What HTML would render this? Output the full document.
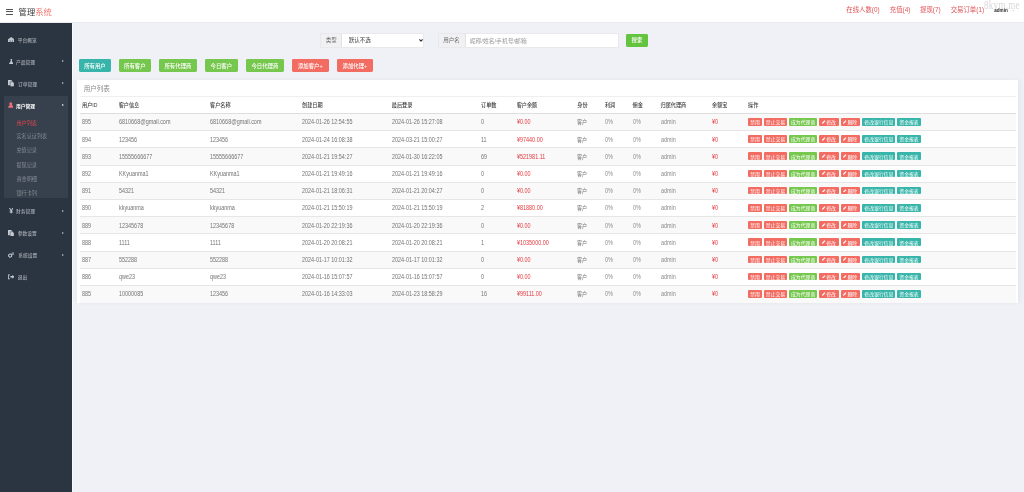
<!DOCTYPE html>
<html><head><meta charset="utf-8"><style>
*{margin:0;padding:0;box-sizing:border-box}
body{filter:blur(0.3px)}
html,body{width:1024px;height:492px;overflow:hidden;background:#f0f1f6;font-family:"Liberation Sans","Noto Sans CJK SC",sans-serif;color:#666}
div,span{white-space:nowrap}
.a{position:absolute}
#hdr{position:absolute;z-index:5;left:0;top:0;width:1024px;height:23px;background:#fff;border-bottom:1px solid #e9e9ee}
#burger{position:absolute;left:6.2px;top:8.8px;width:6.8px;height:6px}
#burger i{position:absolute;left:0;width:6.8px;height:1.1px;background:#555}
#title{position:absolute;left:18.6px;top:7px;font-size:8.3px;line-height:11px;color:#3a3a3a}
#title span{color:#f07a72}
.hl{position:absolute;top:6px;font-size:6.4px;line-height:8px;color:#e05356}
#wm{position:absolute;left:983.8px;top:-2.2px;font-family:"Liberation Serif",serif;font-size:12.2px;color:#d8d8da;transform:scaleX(0.74);transform-origin:0 0;letter-spacing:0.4px}
#admin{position:absolute;left:994.2px;top:8px;font-size:4.6px;line-height:6px;color:#2a2a2a;font-weight:bold}
#side{position:absolute;left:0;top:0;width:72px;height:492px;background:#2b3541}
.mi{position:absolute;font-size:4.75px;line-height:6px;color:#a2a8b0;font-weight:500}
.ic{position:absolute;left:8px;display:flex;align-items:center;justify-content:center;width:6.4px;height:6px}
.ic svg{display:block}
.arr{position:absolute;left:61.9px;width:0;height:0;border-left:2.4px solid #b4b9c0;border-top:1.7px solid transparent;border-bottom:1.7px solid transparent}
#act{position:absolute;left:4px;top:96px;width:64px;height:101.5px;background:#37414d}
.mi.on{color:#fff;font-weight:bold}
.si{position:absolute;left:16.4px;font-size:5.15px;line-height:6px;color:#858c95}
.si.on{color:#e4464e}
.ig{position:absolute;top:32.9px;height:14.7px;background:#fff;border:0.5px solid #e9e9ed}
.ig .ad{position:absolute;left:0;top:0;bottom:0;background:#f1f1f3;border-right:0.5px solid #e2e2e6;font-size:5.5px;color:#666;display:flex;align-items:center;justify-content:center}
.ig .tx{position:absolute;top:0;bottom:0;font-size:5.5px;display:flex;align-items:center}
#sbtn{position:absolute;left:626.2px;top:34px;width:21.4px;height:12.6px;background:#64c43f;border-radius:1.4px;color:#fff;font-size:5.4px;font-weight:500;display:flex;align-items:center;justify-content:center}
.tb{position:absolute;top:59.1px;height:12.7px;border-radius:1.4px;color:#fff;font-size:5.4px;font-weight:500;display:flex;align-items:center;justify-content:center;padding-top:1.3px}
.teal{background:#37b5aa}.grn{background:#76c74d}.red{background:#f36c62}
#panel{position:absolute;left:77px;top:80px;width:940.5px;height:223px;background:#fff;box-shadow:3px 0 4px rgba(40,40,90,0.035),-3px 0 4px rgba(40,40,90,0.02)}
#edge{position:absolute;left:72px;top:23px;width:1px;height:469px;background:#f9fafd}
#ptitle{position:absolute;left:83.8px;top:85.3px;font-size:6.5px;line-height:8px;color:#8a8a8a}
.hr{position:absolute;left:79.5px;width:936.5px}
.th{position:absolute;top:102.4px;font-size:5.15px;line-height:6px;color:#3c3c3c;font-weight:500}
.row{position:absolute;left:79.5px;width:936.5px;height:17.2px}
.row.s{background:#f9f9f9}
.c{position:absolute;font-size:6.4px;line-height:6px;color:#737373;transform:translateY(0.45px) scaleX(0.85);transform-origin:0 50%}
.c.r{color:#e5393e}
.c.l{color:#8a8a8a}
.ab{position:absolute;height:7.8px;border-radius:1px;color:#fff;font-size:4.85px;display:flex;align-items:center;justify-content:center}
.pen{display:block;margin-right:0.6px;margin-top:-0.3px}
</style></head><body>
<div id="hdr">
<div id="burger"><i style="top:0"></i><i style="top:2.4px"></i><i style="top:4.8px"></i></div>
<div id="title">管理<span>系统</span></div>
<div class="hl" style="left:846.3px">在线人数(0)</div>
<div class="hl" style="left:889.8px">充值(4)</div>
<div class="hl" style="left:920.1px">提现(7)</div>
<div class="hl" style="left:950.7px">交易订单(1)</div>
<div id="wm">8kym.me</div>
<div id="admin">admin</div><div class="a" style="left:1012.4px;top:10px;width:0;height:0;border-top:1.4px solid #bbb;border-left:1px solid transparent;border-right:1px solid transparent"></div>
</div>
<div id="edge"></div><div id="side"><div id="act"></div>
<div class="ic" style="top:36.50px"><svg width="6.4" height="5.8" viewBox="0 0 12 11"><path d="M6 0L12 4.5V11H0V4.5z" fill="#bfc4cb"/><path d="M3.3 6h1.4v3.5H3.3z M7.3 6h1.4v3.5H7.3z" fill="#5a636e"/></svg></div><div class="mi" style="left:17.7px;top:37.50px">平台概览</div>
<div class="ic" style="top:58.60px"><svg width="4.6" height="5.6" viewBox="0 0 10 12"><path d="M3 0h4v1H6.2v3.2L10 10.5V12H0v-1.5L3.8 4.2V1H3z" fill="#c3c8ce"/></svg></div><div class="mi" style="left:16.0px;top:59.60px">产品管理</div>
<div class="arr" style="top:60.30px"></div>
<div class="ic" style="top:80.50px"><svg width="6.2" height="6.6" viewBox="0 0 14 15"><path d="M0 0h7l3 3v9H0z" fill="#c8ccd2"/><path d="M5 4h6l3 3v8H5z" fill="#c8ccd2" stroke="#2b3541" stroke-width="1"/></svg></div><div class="mi" style="left:17.9px;top:81.50px">订单管理</div>
<div class="arr" style="top:82.20px"></div>
<div class="ic" style="top:208.00px"><svg width="4.4" height="5.4" viewBox="0 0 10 12"><path d="M0 0h2.6L5 4.6 7.4 0H10L6.4 6H8.6v1.4H6.3V8.6H8.6V10H6.3v2H3.7v-2H1.4V8.6h2.3V7.4H1.4V6h2.2z" fill="#c8ccd2"/></svg></div><div class="mi" style="left:15.9px;top:209.00px">财务管理</div>
<div class="arr" style="top:209.70px"></div>
<div class="ic" style="top:230.00px"><svg width="6.2" height="6.6" viewBox="0 0 14 15"><path d="M0 0h7l3 3v9H0z" fill="#c8ccd2"/><path d="M5 4h6l3 3v8H5z" fill="#c8ccd2" stroke="#2b3541" stroke-width="1"/></svg></div><div class="mi" style="left:17.8px;top:231.00px">参数设置</div>
<div class="arr" style="top:231.70px"></div>
<div class="ic" style="top:252.00px"><svg width="6.6" height="6" viewBox="0 0 16 14"><circle cx="5.5" cy="8.5" r="4" fill="none" stroke="#c8ccd2" stroke-width="2.6"/><circle cx="12.5" cy="3.5" r="2.4" fill="none" stroke="#c8ccd2" stroke-width="1.8"/></svg></div><div class="mi" style="left:18.3px;top:253.00px">系统设置</div>
<div class="arr" style="top:253.70px"></div>
<div class="ic" style="top:274.20px"><svg width="6.4" height="5.6" viewBox="0 0 16 14"><path d="M0 1h5v2H2v8h3v2H0z" fill="#c8ccd2"/><path d="M6 5h5V2l5 5-5 5V9H6z" fill="#c8ccd2"/></svg></div><div class="mi" style="left:17.8px;top:275.20px">退出</div>
<div class="ic" style="top:102.30px;left:7.4px"><svg width="5.6" height="6" viewBox="0 0 14 14"><circle cx="7" cy="4" r="3.8" fill="#ef6e7a"/><path d="M0.5 14c0-5 2.8-7.2 6.5-7.2s6.5 2.2 6.5 7.2z" fill="#ef6e7a"/></svg></div><div class="mi on" style="left:16px;top:103.60px">用户管理</div><div class="arr" style="top:104.30px;border-left-color:#e6e8ea"></div>
<div class="si on" style="top:120.00px">用户列表</div>
<div class="si" style="top:132.70px">实名认证列表</div>
<div class="si" style="top:147.00px">充值记录</div>
<div class="si" style="top:161.80px">提现记录</div>
<div class="si" style="top:175.90px">资金明细</div>
<div class="si" style="top:189.90px">银行卡列</div>
</div>
<div class="ig" style="left:320.2px;width:104px"><div class="ad" style="width:21px">类型</div><div class="tx" style="left:27.5px;color:#333">默认不选</div>
<svg class="a" style="left:98.3px;top:5.1px" width="4" height="3" viewBox="0 0 8 6"><path d="M0.8 0.8L4 4.4 7.2 0.8" fill="none" stroke="#333" stroke-width="2.2" stroke-linejoin="round"/></svg></div>
<div class="ig" style="left:437.5px;width:181.3px"><div class="ad" style="width:27px">用户名</div><div class="tx" style="left:31.2px;color:#999;font-size:5.8px">昵称/姓名/手机号/邮箱</div></div>
<div id="sbtn">搜索</div>
<div class="tb teal" style="left:78.8px;width:32.3px">所有用户</div>
<div class="tb grn" style="left:118.7px;width:32.3px">所有客户</div>
<div class="tb grn" style="left:159px;width:37.9px">所有代理商</div>
<div class="tb grn" style="left:204.9px;width:32.9px">今日客户</div>
<div class="tb grn" style="left:246px;width:37.8px">今日代理商</div>
<div class="tb red" style="left:291.8px;width:36.9px">添加客户+</div>
<div class="tb red" style="left:336.6px;width:36.5px">添加代理+</div>
<div id="panel"></div><div id="ptitle">用户列表</div>
<div class="hr" style="top:96.3px;height:0.6px;background:#efefef"></div>
<div class="th" style="left:82px">用户ID</div>
<div class="th" style="left:118.7px">客户信息</div>
<div class="th" style="left:210px">客户名称</div>
<div class="th" style="left:302px">创建日期</div>
<div class="th" style="left:391.8px">最后登录</div>
<div class="th" style="left:481px">订单数</div>
<div class="th" style="left:516.7px">客户余额</div>
<div class="th" style="left:577.3px">身份</div>
<div class="th" style="left:604.9px">利润</div>
<div class="th" style="left:632.6px">佣金</div>
<div class="th" style="left:660.5px">归属代理商</div>
<div class="th" style="left:712px">余额宝</div>
<div class="th" style="left:748px">操作</div>
<div class="row s" style="top:113.40px"></div>
<div class="c" style="left:82px;top:119.34px">895</div>
<div class="c" style="left:118.7px;top:119.34px">6810668@gmail.com</div>
<div class="c" style="left:210px;top:119.34px">6810668@gmail.com</div>
<div class="c" style="left:302px;top:119.34px">2024-01-26 12:54:55</div>
<div class="c" style="left:391.8px;top:119.34px">2024-01-26 15:27:08</div>
<div class="c" style="left:481px;top:119.34px">0</div>
<div class="c r" style="left:516.7px;top:119.34px">¥0.00</div>
<div class="c" style="left:577.3px;top:119.34px"><span style="font-size:6px">客户</span></div>
<div class="c l" style="left:604.9px;top:119.34px">0%</div>
<div class="c l" style="left:632.6px;top:119.34px">0%</div>
<div class="c l" style="left:660.5px;top:119.34px">admin</div>
<div class="c r" style="left:712px;top:119.34px">¥0</div>
<div class="ab red" style="left:747.9px;top:117.90px;width:14.2px">禁用</div>
<div class="ab red" style="left:764px;top:117.90px;width:23.0px">禁止交易</div>
<div class="ab grn" style="left:789.1px;top:117.90px;width:28.1px">成为代理商</div>
<div class="ab red" style="left:819.4px;top:117.90px;width:19.3px"><svg class="pen" width="3.6" height="3.8" viewBox="0 0 10 10"><path d="M0 10l0.8-3.2L7.2 0.4 9.6 2.8 3.2 9.2z" fill="#fff"/></svg>修改</div>
<div class="ab red" style="left:840.6px;top:117.90px;width:19.3px"><svg class="pen" width="3.6" height="3.8" viewBox="0 0 10 10"><path d="M0 10l0.8-3.2L7.2 0.4 9.6 2.8 3.2 9.2z" fill="#fff"/></svg>删除</div>
<div class="ab teal" style="left:862.3px;top:117.90px;width:33.2px">修改银行信息</div>
<div class="ab teal" style="left:897.3px;top:117.90px;width:23.4px">资金报表</div>
<div class="row" style="top:130.60px"></div>
<div class="hr" style="top:130.25px;height:0.7px;background:#e6e6e6"></div>
<div class="c" style="left:82px;top:136.54px">894</div>
<div class="c" style="left:118.7px;top:136.54px">123456</div>
<div class="c" style="left:210px;top:136.54px">123456</div>
<div class="c" style="left:302px;top:136.54px">2024-01-24 16:08:38</div>
<div class="c" style="left:391.8px;top:136.54px">2024-03-21 15:00:27</div>
<div class="c" style="left:481px;top:136.54px">11</div>
<div class="c r" style="left:516.7px;top:136.54px">¥97440.00</div>
<div class="c" style="left:577.3px;top:136.54px"><span style="font-size:6px">客户</span></div>
<div class="c l" style="left:604.9px;top:136.54px">0%</div>
<div class="c l" style="left:632.6px;top:136.54px">0%</div>
<div class="c l" style="left:660.5px;top:136.54px">admin</div>
<div class="c r" style="left:712px;top:136.54px">¥0</div>
<div class="ab red" style="left:747.9px;top:135.10px;width:14.2px">禁用</div>
<div class="ab red" style="left:764px;top:135.10px;width:23.0px">禁止交易</div>
<div class="ab grn" style="left:789.1px;top:135.10px;width:28.1px">成为代理商</div>
<div class="ab red" style="left:819.4px;top:135.10px;width:19.3px"><svg class="pen" width="3.6" height="3.8" viewBox="0 0 10 10"><path d="M0 10l0.8-3.2L7.2 0.4 9.6 2.8 3.2 9.2z" fill="#fff"/></svg>修改</div>
<div class="ab red" style="left:840.6px;top:135.10px;width:19.3px"><svg class="pen" width="3.6" height="3.8" viewBox="0 0 10 10"><path d="M0 10l0.8-3.2L7.2 0.4 9.6 2.8 3.2 9.2z" fill="#fff"/></svg>删除</div>
<div class="ab teal" style="left:862.3px;top:135.10px;width:33.2px">修改银行信息</div>
<div class="ab teal" style="left:897.3px;top:135.10px;width:23.4px">资金报表</div>
<div class="row s" style="top:147.80px"></div>
<div class="hr" style="top:147.45px;height:0.7px;background:#e6e6e6"></div>
<div class="c" style="left:82px;top:153.74px">893</div>
<div class="c" style="left:118.7px;top:153.74px">15555666677</div>
<div class="c" style="left:210px;top:153.74px">15555666677</div>
<div class="c" style="left:302px;top:153.74px">2024-01-21 19:54:27</div>
<div class="c" style="left:391.8px;top:153.74px">2024-01-30 16:22:05</div>
<div class="c" style="left:481px;top:153.74px">69</div>
<div class="c r" style="left:516.7px;top:153.74px">¥521981.11</div>
<div class="c" style="left:577.3px;top:153.74px"><span style="font-size:6px">客户</span></div>
<div class="c l" style="left:604.9px;top:153.74px">0%</div>
<div class="c l" style="left:632.6px;top:153.74px">0%</div>
<div class="c l" style="left:660.5px;top:153.74px">admin</div>
<div class="c r" style="left:712px;top:153.74px">¥0</div>
<div class="ab red" style="left:747.9px;top:152.30px;width:14.2px">禁用</div>
<div class="ab red" style="left:764px;top:152.30px;width:23.0px">禁止交易</div>
<div class="ab grn" style="left:789.1px;top:152.30px;width:28.1px">成为代理商</div>
<div class="ab red" style="left:819.4px;top:152.30px;width:19.3px"><svg class="pen" width="3.6" height="3.8" viewBox="0 0 10 10"><path d="M0 10l0.8-3.2L7.2 0.4 9.6 2.8 3.2 9.2z" fill="#fff"/></svg>修改</div>
<div class="ab red" style="left:840.6px;top:152.30px;width:19.3px"><svg class="pen" width="3.6" height="3.8" viewBox="0 0 10 10"><path d="M0 10l0.8-3.2L7.2 0.4 9.6 2.8 3.2 9.2z" fill="#fff"/></svg>删除</div>
<div class="ab teal" style="left:862.3px;top:152.30px;width:33.2px">修改银行信息</div>
<div class="ab teal" style="left:897.3px;top:152.30px;width:23.4px">资金报表</div>
<div class="row" style="top:165.00px"></div>
<div class="hr" style="top:164.65px;height:0.7px;background:#e6e6e6"></div>
<div class="c" style="left:82px;top:170.94px">892</div>
<div class="c" style="left:118.7px;top:170.94px">KKyuanma1</div>
<div class="c" style="left:210px;top:170.94px">KKyuanma1</div>
<div class="c" style="left:302px;top:170.94px">2024-01-21 19:49:16</div>
<div class="c" style="left:391.8px;top:170.94px">2024-01-21 19:49:16</div>
<div class="c" style="left:481px;top:170.94px">0</div>
<div class="c r" style="left:516.7px;top:170.94px">¥0.00</div>
<div class="c" style="left:577.3px;top:170.94px"><span style="font-size:6px">客户</span></div>
<div class="c l" style="left:604.9px;top:170.94px">0%</div>
<div class="c l" style="left:632.6px;top:170.94px">0%</div>
<div class="c l" style="left:660.5px;top:170.94px">admin</div>
<div class="c r" style="left:712px;top:170.94px">¥0</div>
<div class="ab red" style="left:747.9px;top:169.50px;width:14.2px">禁用</div>
<div class="ab red" style="left:764px;top:169.50px;width:23.0px">禁止交易</div>
<div class="ab grn" style="left:789.1px;top:169.50px;width:28.1px">成为代理商</div>
<div class="ab red" style="left:819.4px;top:169.50px;width:19.3px"><svg class="pen" width="3.6" height="3.8" viewBox="0 0 10 10"><path d="M0 10l0.8-3.2L7.2 0.4 9.6 2.8 3.2 9.2z" fill="#fff"/></svg>修改</div>
<div class="ab red" style="left:840.6px;top:169.50px;width:19.3px"><svg class="pen" width="3.6" height="3.8" viewBox="0 0 10 10"><path d="M0 10l0.8-3.2L7.2 0.4 9.6 2.8 3.2 9.2z" fill="#fff"/></svg>删除</div>
<div class="ab teal" style="left:862.3px;top:169.50px;width:33.2px">修改银行信息</div>
<div class="ab teal" style="left:897.3px;top:169.50px;width:23.4px">资金报表</div>
<div class="row s" style="top:182.20px"></div>
<div class="hr" style="top:181.85px;height:0.7px;background:#e6e6e6"></div>
<div class="c" style="left:82px;top:188.14px">891</div>
<div class="c" style="left:118.7px;top:188.14px">54321</div>
<div class="c" style="left:210px;top:188.14px">54321</div>
<div class="c" style="left:302px;top:188.14px">2024-01-21 18:06:31</div>
<div class="c" style="left:391.8px;top:188.14px">2024-01-21 20:04:27</div>
<div class="c" style="left:481px;top:188.14px">0</div>
<div class="c r" style="left:516.7px;top:188.14px">¥0.00</div>
<div class="c" style="left:577.3px;top:188.14px"><span style="font-size:6px">客户</span></div>
<div class="c l" style="left:604.9px;top:188.14px">0%</div>
<div class="c l" style="left:632.6px;top:188.14px">0%</div>
<div class="c l" style="left:660.5px;top:188.14px">admin</div>
<div class="c r" style="left:712px;top:188.14px">¥0</div>
<div class="ab red" style="left:747.9px;top:186.70px;width:14.2px">禁用</div>
<div class="ab red" style="left:764px;top:186.70px;width:23.0px">禁止交易</div>
<div class="ab grn" style="left:789.1px;top:186.70px;width:28.1px">成为代理商</div>
<div class="ab red" style="left:819.4px;top:186.70px;width:19.3px"><svg class="pen" width="3.6" height="3.8" viewBox="0 0 10 10"><path d="M0 10l0.8-3.2L7.2 0.4 9.6 2.8 3.2 9.2z" fill="#fff"/></svg>修改</div>
<div class="ab red" style="left:840.6px;top:186.70px;width:19.3px"><svg class="pen" width="3.6" height="3.8" viewBox="0 0 10 10"><path d="M0 10l0.8-3.2L7.2 0.4 9.6 2.8 3.2 9.2z" fill="#fff"/></svg>删除</div>
<div class="ab teal" style="left:862.3px;top:186.70px;width:33.2px">修改银行信息</div>
<div class="ab teal" style="left:897.3px;top:186.70px;width:23.4px">资金报表</div>
<div class="row" style="top:199.40px"></div>
<div class="hr" style="top:199.05px;height:0.7px;background:#e6e6e6"></div>
<div class="c" style="left:82px;top:205.34px">890</div>
<div class="c" style="left:118.7px;top:205.34px">kkyuanma</div>
<div class="c" style="left:210px;top:205.34px">kkyuanma</div>
<div class="c" style="left:302px;top:205.34px">2024-01-21 15:50:19</div>
<div class="c" style="left:391.8px;top:205.34px">2024-01-21 15:50:19</div>
<div class="c" style="left:481px;top:205.34px">2</div>
<div class="c r" style="left:516.7px;top:205.34px">¥81880.00</div>
<div class="c" style="left:577.3px;top:205.34px"><span style="font-size:6px">客户</span></div>
<div class="c l" style="left:604.9px;top:205.34px">0%</div>
<div class="c l" style="left:632.6px;top:205.34px">0%</div>
<div class="c l" style="left:660.5px;top:205.34px">admin</div>
<div class="c r" style="left:712px;top:205.34px">¥0</div>
<div class="ab red" style="left:747.9px;top:203.90px;width:14.2px">禁用</div>
<div class="ab red" style="left:764px;top:203.90px;width:23.0px">禁止交易</div>
<div class="ab grn" style="left:789.1px;top:203.90px;width:28.1px">成为代理商</div>
<div class="ab red" style="left:819.4px;top:203.90px;width:19.3px"><svg class="pen" width="3.6" height="3.8" viewBox="0 0 10 10"><path d="M0 10l0.8-3.2L7.2 0.4 9.6 2.8 3.2 9.2z" fill="#fff"/></svg>修改</div>
<div class="ab red" style="left:840.6px;top:203.90px;width:19.3px"><svg class="pen" width="3.6" height="3.8" viewBox="0 0 10 10"><path d="M0 10l0.8-3.2L7.2 0.4 9.6 2.8 3.2 9.2z" fill="#fff"/></svg>删除</div>
<div class="ab teal" style="left:862.3px;top:203.90px;width:33.2px">修改银行信息</div>
<div class="ab teal" style="left:897.3px;top:203.90px;width:23.4px">资金报表</div>
<div class="row s" style="top:216.60px"></div>
<div class="hr" style="top:216.25px;height:0.7px;background:#e6e6e6"></div>
<div class="c" style="left:82px;top:222.54px">889</div>
<div class="c" style="left:118.7px;top:222.54px">12345678</div>
<div class="c" style="left:210px;top:222.54px">12345678</div>
<div class="c" style="left:302px;top:222.54px">2024-01-20 22:19:36</div>
<div class="c" style="left:391.8px;top:222.54px">2024-01-20 22:19:36</div>
<div class="c" style="left:481px;top:222.54px">0</div>
<div class="c r" style="left:516.7px;top:222.54px">¥0.00</div>
<div class="c" style="left:577.3px;top:222.54px"><span style="font-size:6px">客户</span></div>
<div class="c l" style="left:604.9px;top:222.54px">0%</div>
<div class="c l" style="left:632.6px;top:222.54px">0%</div>
<div class="c l" style="left:660.5px;top:222.54px">admin</div>
<div class="c r" style="left:712px;top:222.54px">¥0</div>
<div class="ab red" style="left:747.9px;top:221.10px;width:14.2px">禁用</div>
<div class="ab red" style="left:764px;top:221.10px;width:23.0px">禁止交易</div>
<div class="ab grn" style="left:789.1px;top:221.10px;width:28.1px">成为代理商</div>
<div class="ab red" style="left:819.4px;top:221.10px;width:19.3px"><svg class="pen" width="3.6" height="3.8" viewBox="0 0 10 10"><path d="M0 10l0.8-3.2L7.2 0.4 9.6 2.8 3.2 9.2z" fill="#fff"/></svg>修改</div>
<div class="ab red" style="left:840.6px;top:221.10px;width:19.3px"><svg class="pen" width="3.6" height="3.8" viewBox="0 0 10 10"><path d="M0 10l0.8-3.2L7.2 0.4 9.6 2.8 3.2 9.2z" fill="#fff"/></svg>删除</div>
<div class="ab teal" style="left:862.3px;top:221.10px;width:33.2px">修改银行信息</div>
<div class="ab teal" style="left:897.3px;top:221.10px;width:23.4px">资金报表</div>
<div class="row" style="top:233.80px"></div>
<div class="hr" style="top:233.45px;height:0.7px;background:#e6e6e6"></div>
<div class="c" style="left:82px;top:239.74px">888</div>
<div class="c" style="left:118.7px;top:239.74px">1111</div>
<div class="c" style="left:210px;top:239.74px">1111</div>
<div class="c" style="left:302px;top:239.74px">2024-01-20 20:08:21</div>
<div class="c" style="left:391.8px;top:239.74px">2024-01-20 20:08:21</div>
<div class="c" style="left:481px;top:239.74px">1</div>
<div class="c r" style="left:516.7px;top:239.74px">¥1035000.00</div>
<div class="c" style="left:577.3px;top:239.74px"><span style="font-size:6px">客户</span></div>
<div class="c l" style="left:604.9px;top:239.74px">0%</div>
<div class="c l" style="left:632.6px;top:239.74px">0%</div>
<div class="c l" style="left:660.5px;top:239.74px">admin</div>
<div class="c r" style="left:712px;top:239.74px">¥0</div>
<div class="ab red" style="left:747.9px;top:238.30px;width:14.2px">禁用</div>
<div class="ab red" style="left:764px;top:238.30px;width:23.0px">禁止交易</div>
<div class="ab grn" style="left:789.1px;top:238.30px;width:28.1px">成为代理商</div>
<div class="ab red" style="left:819.4px;top:238.30px;width:19.3px"><svg class="pen" width="3.6" height="3.8" viewBox="0 0 10 10"><path d="M0 10l0.8-3.2L7.2 0.4 9.6 2.8 3.2 9.2z" fill="#fff"/></svg>修改</div>
<div class="ab red" style="left:840.6px;top:238.30px;width:19.3px"><svg class="pen" width="3.6" height="3.8" viewBox="0 0 10 10"><path d="M0 10l0.8-3.2L7.2 0.4 9.6 2.8 3.2 9.2z" fill="#fff"/></svg>删除</div>
<div class="ab teal" style="left:862.3px;top:238.30px;width:33.2px">修改银行信息</div>
<div class="ab teal" style="left:897.3px;top:238.30px;width:23.4px">资金报表</div>
<div class="row s" style="top:251.00px"></div>
<div class="hr" style="top:250.65px;height:0.7px;background:#e6e6e6"></div>
<div class="c" style="left:82px;top:256.94px">887</div>
<div class="c" style="left:118.7px;top:256.94px">552288</div>
<div class="c" style="left:210px;top:256.94px">552288</div>
<div class="c" style="left:302px;top:256.94px">2024-01-17 10:01:32</div>
<div class="c" style="left:391.8px;top:256.94px">2024-01-17 10:01:32</div>
<div class="c" style="left:481px;top:256.94px">0</div>
<div class="c r" style="left:516.7px;top:256.94px">¥0.00</div>
<div class="c" style="left:577.3px;top:256.94px"><span style="font-size:6px">客户</span></div>
<div class="c l" style="left:604.9px;top:256.94px">0%</div>
<div class="c l" style="left:632.6px;top:256.94px">0%</div>
<div class="c l" style="left:660.5px;top:256.94px">admin</div>
<div class="c r" style="left:712px;top:256.94px">¥0</div>
<div class="ab red" style="left:747.9px;top:255.50px;width:14.2px">禁用</div>
<div class="ab red" style="left:764px;top:255.50px;width:23.0px">禁止交易</div>
<div class="ab grn" style="left:789.1px;top:255.50px;width:28.1px">成为代理商</div>
<div class="ab red" style="left:819.4px;top:255.50px;width:19.3px"><svg class="pen" width="3.6" height="3.8" viewBox="0 0 10 10"><path d="M0 10l0.8-3.2L7.2 0.4 9.6 2.8 3.2 9.2z" fill="#fff"/></svg>修改</div>
<div class="ab red" style="left:840.6px;top:255.50px;width:19.3px"><svg class="pen" width="3.6" height="3.8" viewBox="0 0 10 10"><path d="M0 10l0.8-3.2L7.2 0.4 9.6 2.8 3.2 9.2z" fill="#fff"/></svg>删除</div>
<div class="ab teal" style="left:862.3px;top:255.50px;width:33.2px">修改银行信息</div>
<div class="ab teal" style="left:897.3px;top:255.50px;width:23.4px">资金报表</div>
<div class="row" style="top:268.20px"></div>
<div class="hr" style="top:267.85px;height:0.7px;background:#e6e6e6"></div>
<div class="c" style="left:82px;top:274.14px">886</div>
<div class="c" style="left:118.7px;top:274.14px">qwe23</div>
<div class="c" style="left:210px;top:274.14px">qwe23</div>
<div class="c" style="left:302px;top:274.14px">2024-01-16 15:07:57</div>
<div class="c" style="left:391.8px;top:274.14px">2024-01-16 15:07:57</div>
<div class="c" style="left:481px;top:274.14px">0</div>
<div class="c r" style="left:516.7px;top:274.14px">¥0.00</div>
<div class="c" style="left:577.3px;top:274.14px"><span style="font-size:6px">客户</span></div>
<div class="c l" style="left:604.9px;top:274.14px">0%</div>
<div class="c l" style="left:632.6px;top:274.14px">0%</div>
<div class="c l" style="left:660.5px;top:274.14px">admin</div>
<div class="c r" style="left:712px;top:274.14px">¥0</div>
<div class="ab red" style="left:747.9px;top:272.70px;width:14.2px">禁用</div>
<div class="ab red" style="left:764px;top:272.70px;width:23.0px">禁止交易</div>
<div class="ab grn" style="left:789.1px;top:272.70px;width:28.1px">成为代理商</div>
<div class="ab red" style="left:819.4px;top:272.70px;width:19.3px"><svg class="pen" width="3.6" height="3.8" viewBox="0 0 10 10"><path d="M0 10l0.8-3.2L7.2 0.4 9.6 2.8 3.2 9.2z" fill="#fff"/></svg>修改</div>
<div class="ab red" style="left:840.6px;top:272.70px;width:19.3px"><svg class="pen" width="3.6" height="3.8" viewBox="0 0 10 10"><path d="M0 10l0.8-3.2L7.2 0.4 9.6 2.8 3.2 9.2z" fill="#fff"/></svg>删除</div>
<div class="ab teal" style="left:862.3px;top:272.70px;width:33.2px">修改银行信息</div>
<div class="ab teal" style="left:897.3px;top:272.70px;width:23.4px">资金报表</div>
<div class="row s" style="top:285.40px"></div>
<div class="hr" style="top:285.05px;height:0.7px;background:#e6e6e6"></div>
<div class="c" style="left:82px;top:291.34px">885</div>
<div class="c" style="left:118.7px;top:291.34px">10000085</div>
<div class="c" style="left:210px;top:291.34px">123456</div>
<div class="c" style="left:302px;top:291.34px">2024-01-16 14:33:03</div>
<div class="c" style="left:391.8px;top:291.34px">2024-01-23 18:58:29</div>
<div class="c" style="left:481px;top:291.34px">16</div>
<div class="c r" style="left:516.7px;top:291.34px">¥99111.00</div>
<div class="c" style="left:577.3px;top:291.34px"><span style="font-size:6px">客户</span></div>
<div class="c l" style="left:604.9px;top:291.34px">0%</div>
<div class="c l" style="left:632.6px;top:291.34px">0%</div>
<div class="c l" style="left:660.5px;top:291.34px">admin</div>
<div class="c r" style="left:712px;top:291.34px">¥0</div>
<div class="ab red" style="left:747.9px;top:289.90px;width:14.2px">禁用</div>
<div class="ab red" style="left:764px;top:289.90px;width:23.0px">禁止交易</div>
<div class="ab grn" style="left:789.1px;top:289.90px;width:28.1px">成为代理商</div>
<div class="ab red" style="left:819.4px;top:289.90px;width:19.3px"><svg class="pen" width="3.6" height="3.8" viewBox="0 0 10 10"><path d="M0 10l0.8-3.2L7.2 0.4 9.6 2.8 3.2 9.2z" fill="#fff"/></svg>修改</div>
<div class="ab red" style="left:840.6px;top:289.90px;width:19.3px"><svg class="pen" width="3.6" height="3.8" viewBox="0 0 10 10"><path d="M0 10l0.8-3.2L7.2 0.4 9.6 2.8 3.2 9.2z" fill="#fff"/></svg>删除</div>
<div class="ab teal" style="left:862.3px;top:289.90px;width:33.2px">修改银行信息</div>
<div class="ab teal" style="left:897.3px;top:289.90px;width:23.4px">资金报表</div>
<div class="hr" style="top:112.8px;height:1.1px;background:#dedede"></div>
</body></html>
